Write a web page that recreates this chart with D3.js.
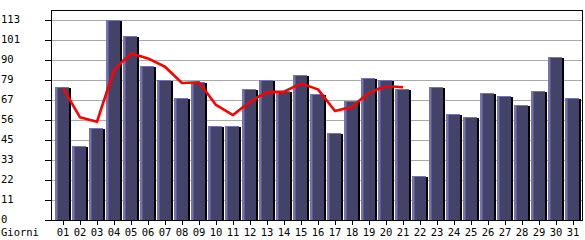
<!DOCTYPE html>
<html>
<head>
<meta charset="utf-8">
<script src="https://cdn.jsdelivr.net/npm/d3@7"></script>
<style>
  body { margin: 0; background: #fff; }
  text { font-family: "DejaVu Sans Mono", monospace; font-size: 10.5px; fill: #000; }
</style>
</head>
<body>
<script>
// daily values
var days = ["01","02","03","04","05","06","07","08","09","10","11","12","13","14","15","16",
            "17","18","19","20","21","22","23","24","25","26","27","28","29","30","31"];
var visits = [75, 42, 52, 113, 104, 87, 79, 69, 78, 53, 53, 74, 79, 73, 82, 71,
              49, 67, 80, 79, 74, 25, 75, 60, 58, 72, 70, 65, 73, 92, 69];
// running average, up to today (21)
var average = [74.7, 58, 55.5, 85, 94.2, 91.3, 86.6, 77.4, 77.8, 65, 59.3, 66.9, 72.5, 72.5,
               77.2, 73.8, 61.6, 64, 72.1, 75.7, 75];
var tickCount = 10;
var maxValue = 113;

var width = 585,
    height = 240,
    plotLeft = 51, plotRight = 582, plotTop = 10, plotBottom = 220;

var svg = d3.select("body").append("svg")
    .attr("width", width)
    .attr("height", height);

var x = d3.scaleBand()
    .domain(days)
    .range([55, 581])
    .paddingInner(1 / 17)
    .paddingOuter(0);

var y = d3.scaleLinear()
    .domain([0, maxValue * 1.05])
    .range([plotBottom, plotTop]);

var tickValues = d3.range(tickCount + 1).map(function(i) { return i * maxValue / tickCount; });

// grid
svg.append("g").selectAll("line")
    .data(tickValues.slice(1))
    .enter().append("line")
    .attr("x1", plotLeft).attr("x2", plotRight)
    .attr("y1", function(d) { return Math.round(y(d)) + 0.5; })
    .attr("y2", function(d) { return Math.round(y(d)) + 0.5; })
    .attr("stroke", "#aaaaaa")
    .attr("stroke-width", 1);

// bars
var bw = x.bandwidth();
var bar = svg.append("g").selectAll("g")
    .data(visits)
    .enter().append("g")
    .attr("transform", function(d, i) { return "translate(" + Math.round(x(days[i])) + ",0)"; });

bar.append("rect")   // shadow
    .attr("x", bw - 2)
    .attr("y", function(d) { return Math.round(y(d)) + 1; })
    .attr("width", 2)
    .attr("height", function(d) { return plotBottom - Math.round(y(d)) - 1; })
    .attr("fill", "#000");

bar.append("rect")   // light edge
    .attr("x", 0)
    .attr("y", function(d) { return Math.round(y(d)); })
    .attr("width", bw - 2)
    .attr("height", function(d) { return plotBottom - Math.round(y(d)); })
    .attr("fill", "#7672b4");

bar.append("rect")   // body
    .attr("x", 2.5)
    .attr("y", function(d) { return Math.round(y(d)) + 1; })
    .attr("width", bw - 4.5)
    .attr("height", function(d) { return plotBottom - Math.round(y(d)) - 1; })
    .attr("fill", "#434368");

// average line
var line = d3.line()
    .x(function(d, i) { return x(days[i]) + bw / 2; })
    .y(function(d) { return y(d); })
    .curve(d3.curveLinear);

svg.append("path")
    .datum(average)
    .attr("d", line)
    .attr("fill", "none")
    .attr("stroke", "#ff0000")
    .attr("stroke-width", 2.6)
    .attr("stroke-linejoin", "round");

// frame
svg.append("rect")
    .attr("x", plotLeft + 0.5).attr("y", plotTop + 0.5)
    .attr("width", plotRight - plotLeft).attr("height", plotBottom - plotTop)
    .attr("fill", "none")
    .attr("stroke", "#000");

// y ticks and labels
svg.append("g").selectAll("line")
    .data(tickValues)
    .enter().append("line")
    .attr("x1", 45).attr("x2", plotLeft)
    .attr("y1", function(d) { return Math.round(y(d)) + 0.5; })
    .attr("y2", function(d) { return Math.round(y(d)) + 0.5; })
    .attr("stroke", "#000");

svg.append("g").selectAll("text")
    .data(tickValues)
    .enter().append("text")
    .attr("x", 1)
    .attr("y", function(d) { return y(d) + 3; })
    .text(function(d) { return Math.floor(d); });

// x ticks and labels
svg.append("g").selectAll("line")
    .data(days)
    .enter().append("line")
    .attr("x1", function(d) { return Math.round(x(d) + bw / 2) + 0.5; })
    .attr("x2", function(d) { return Math.round(x(d) + bw / 2) + 0.5; })
    .attr("y1", plotBottom).attr("y2", plotBottom + 5)
    .attr("stroke", "#000");

svg.append("g").selectAll("text")
    .data(days)
    .enter().append("text")
    .attr("x", function(d) { return x(d) + bw / 2; })
    .attr("y", 236)
    .attr("text-anchor", "middle")
    .text(function(d) { return d; });

svg.append("text")
    .attr("x", 1)
    .attr("y", 236)
    .text("Giorni");
</script>
</body>
</html>
